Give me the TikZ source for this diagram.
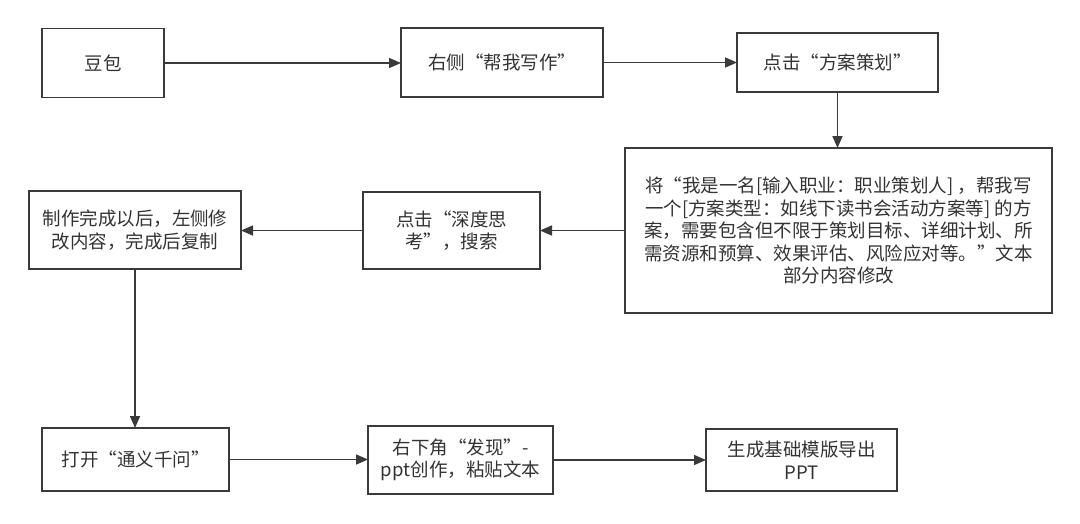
\documentclass[tikz,border=0pt]{standalone}
\usepackage{fontspec}
\setmainfont{Noto Sans CJK SC}
\usetikzlibrary{arrows.meta}
\definecolor{linec}{HTML}{3A3A3A}
\definecolor{textc}{HTML}{333333}
\tikzset{
  flowbox/.style={draw=linec, line width=1.6pt, fill=white, rectangle,
    inner sep=0pt, outer sep=0pt, align=center, text=textc,
    font=\fontsize{18.5}{22.5}\selectfont},
  flowarrow/.style={draw=linec, line width=1.6pt,
    -{Triangle[length=12pt,width=10pt]}},
  flowline/.style={draw=linec, line width=1.6pt}
}
\begin{document}
\begin{tikzpicture}[x=1pt,y=-1pt]
\fill[white] (0,0) rectangle (1080,523);
\useasboundingbox (0,0) rectangle (1080,523);

\node[flowbox, minimum width=122pt, minimum height=69pt] (b1) at (103,63) {豆包};
\node[flowbox, minimum width=202pt, minimum height=69pt] (b2) at (502,62.5) {右侧“帮我写作”};
\node[flowbox, minimum width=201pt, minimum height=59pt] (b3) at (837.5,62.5) {点击“方案策划”};
\node[flowbox, minimum width=427pt, minimum height=165pt] (b4) at (838.5,230.5)
  {将“我是一名[输入职业：职业策划人] ，帮我写\\一个[方案类型：如线下读书会活动方案等] 的方\\案，需要包含但不限于策划目标、详细计划、所\\需资源和预算、效果评估、风险应对等。”文本\\部分内容修改};
\node[flowbox, minimum width=177pt, minimum height=77pt] (b5) at (451.5,230.5) {点击“深度思\\考”，搜索};
\node[flowbox, minimum width=212pt, minimum height=78pt] (b6) at (135,230) {制作完成以后，左侧修\\改内容，完成后复制};
\node[flowbox, minimum width=187pt, minimum height=63pt] (b7) at (135.5,459.5) {打开“通义千问”};
\node[flowbox, minimum width=185pt, minimum height=68pt] (b8) at (460.5,460) {右下角“发现”-\\ppt创作，粘贴文本};
\node[flowbox, minimum width=191pt, minimum height=62pt] (b9) at (801.5,460) {生成基础模版导出\\PPT};

\draw[flowarrow] (b1.east) -- (b1.east -| b2.west);
\draw[flowarrow] (b2.east) -- (b2.east -| b3.west);
\draw[flowarrow] (b3.south) -- (b3.south |- b4.north);
\draw[flowarrow] (b4.west) -- (b4.west -| b5.east);
\draw[flowarrow] (b5.west) -- (b5.west -| b6.east);
\draw[flowarrow] (b6.south) -- (b6.south |- b7.north);
\draw[flowarrow] (b7.east) -- (b7.east -| b8.west);
\draw[flowarrow] (b8.east) -- (b8.east -| b9.west);
\end{tikzpicture}
\end{document}
